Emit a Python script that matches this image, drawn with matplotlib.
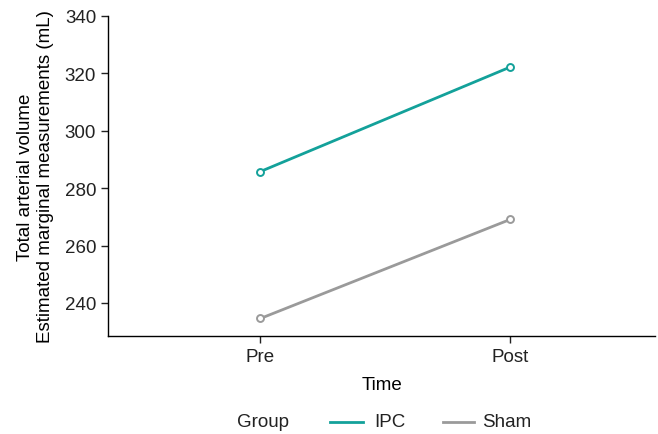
import matplotlib
matplotlib.use("Agg")
import matplotlib.pyplot as plt
from matplotlib.lines import Line2D

plt.rcParams['font.family'] = ['Liberation Sans', 'DejaVu Sans']

# data
times = ["Pre", "Post"]
ipc = [285.8, 322.2]
sham = [234.6, 269.1]
groups = ["IPC", "Sham"]

ipc_color = "#13a19a"
sham_color = "#9a9a9a"
fs = 13.5

W, H = 658, 435
fig = plt.figure(figsize=(W / 100, H / 100), dpi=100)
ax = fig.add_axes([108 / W, 1 - 337 / H, (655 - 108) / W, (337 - 17) / H])

x = list(range(len(times)))
ax.plot(x, ipc, color=ipc_color, lw=2.0, marker="o", ms=5, mfc="white", mec=ipc_color, mew=1.4)
ax.plot(x, sham, color=sham_color, lw=2.0, marker="o", ms=5, mfc="white", mec=sham_color, mew=1.4)

ax.set_xlim(-0.61, 1.58)
ax.set_ylim(228.5, 340)
ax.set_yticks([240, 260, 280, 300, 320, 340])
ax.set_xticks(x)
ax.set_xticklabels(times)

for s in ["top", "right"]:
    ax.spines[s].set_visible(False)
for s in ["left", "bottom"]:
    ax.spines[s].set_linewidth(1.0)
ax.tick_params(labelsize=fs, length=5, width=1.0, colors="#222222")

ax.set_xlabel("Time", fontsize=fs, labelpad=8)
ax.set_ylabel("Total arterial volume\nEstimated marginal measurements (mL)", fontsize=fs, labelpad=8)

# legend along the bottom, placed by hand
ly = 1 - 423 / H
fig.text(237 / W, ly, "Group", fontsize=fs, va="center", ha="left", color="#222222")
for (x0, x1, tx), name, c in zip([(330, 363, 374), (443, 474, 482)], groups, [ipc_color, sham_color]):
    fig.add_artist(Line2D([x0 / W, x1 / W], [ly, ly], color=c, lw=2.0, transform=fig.transFigure))
    fig.text(tx / W, ly, name, fontsize=fs, va="center", ha="left", color="#222222")

fig.savefig("out.png", dpi=100)
